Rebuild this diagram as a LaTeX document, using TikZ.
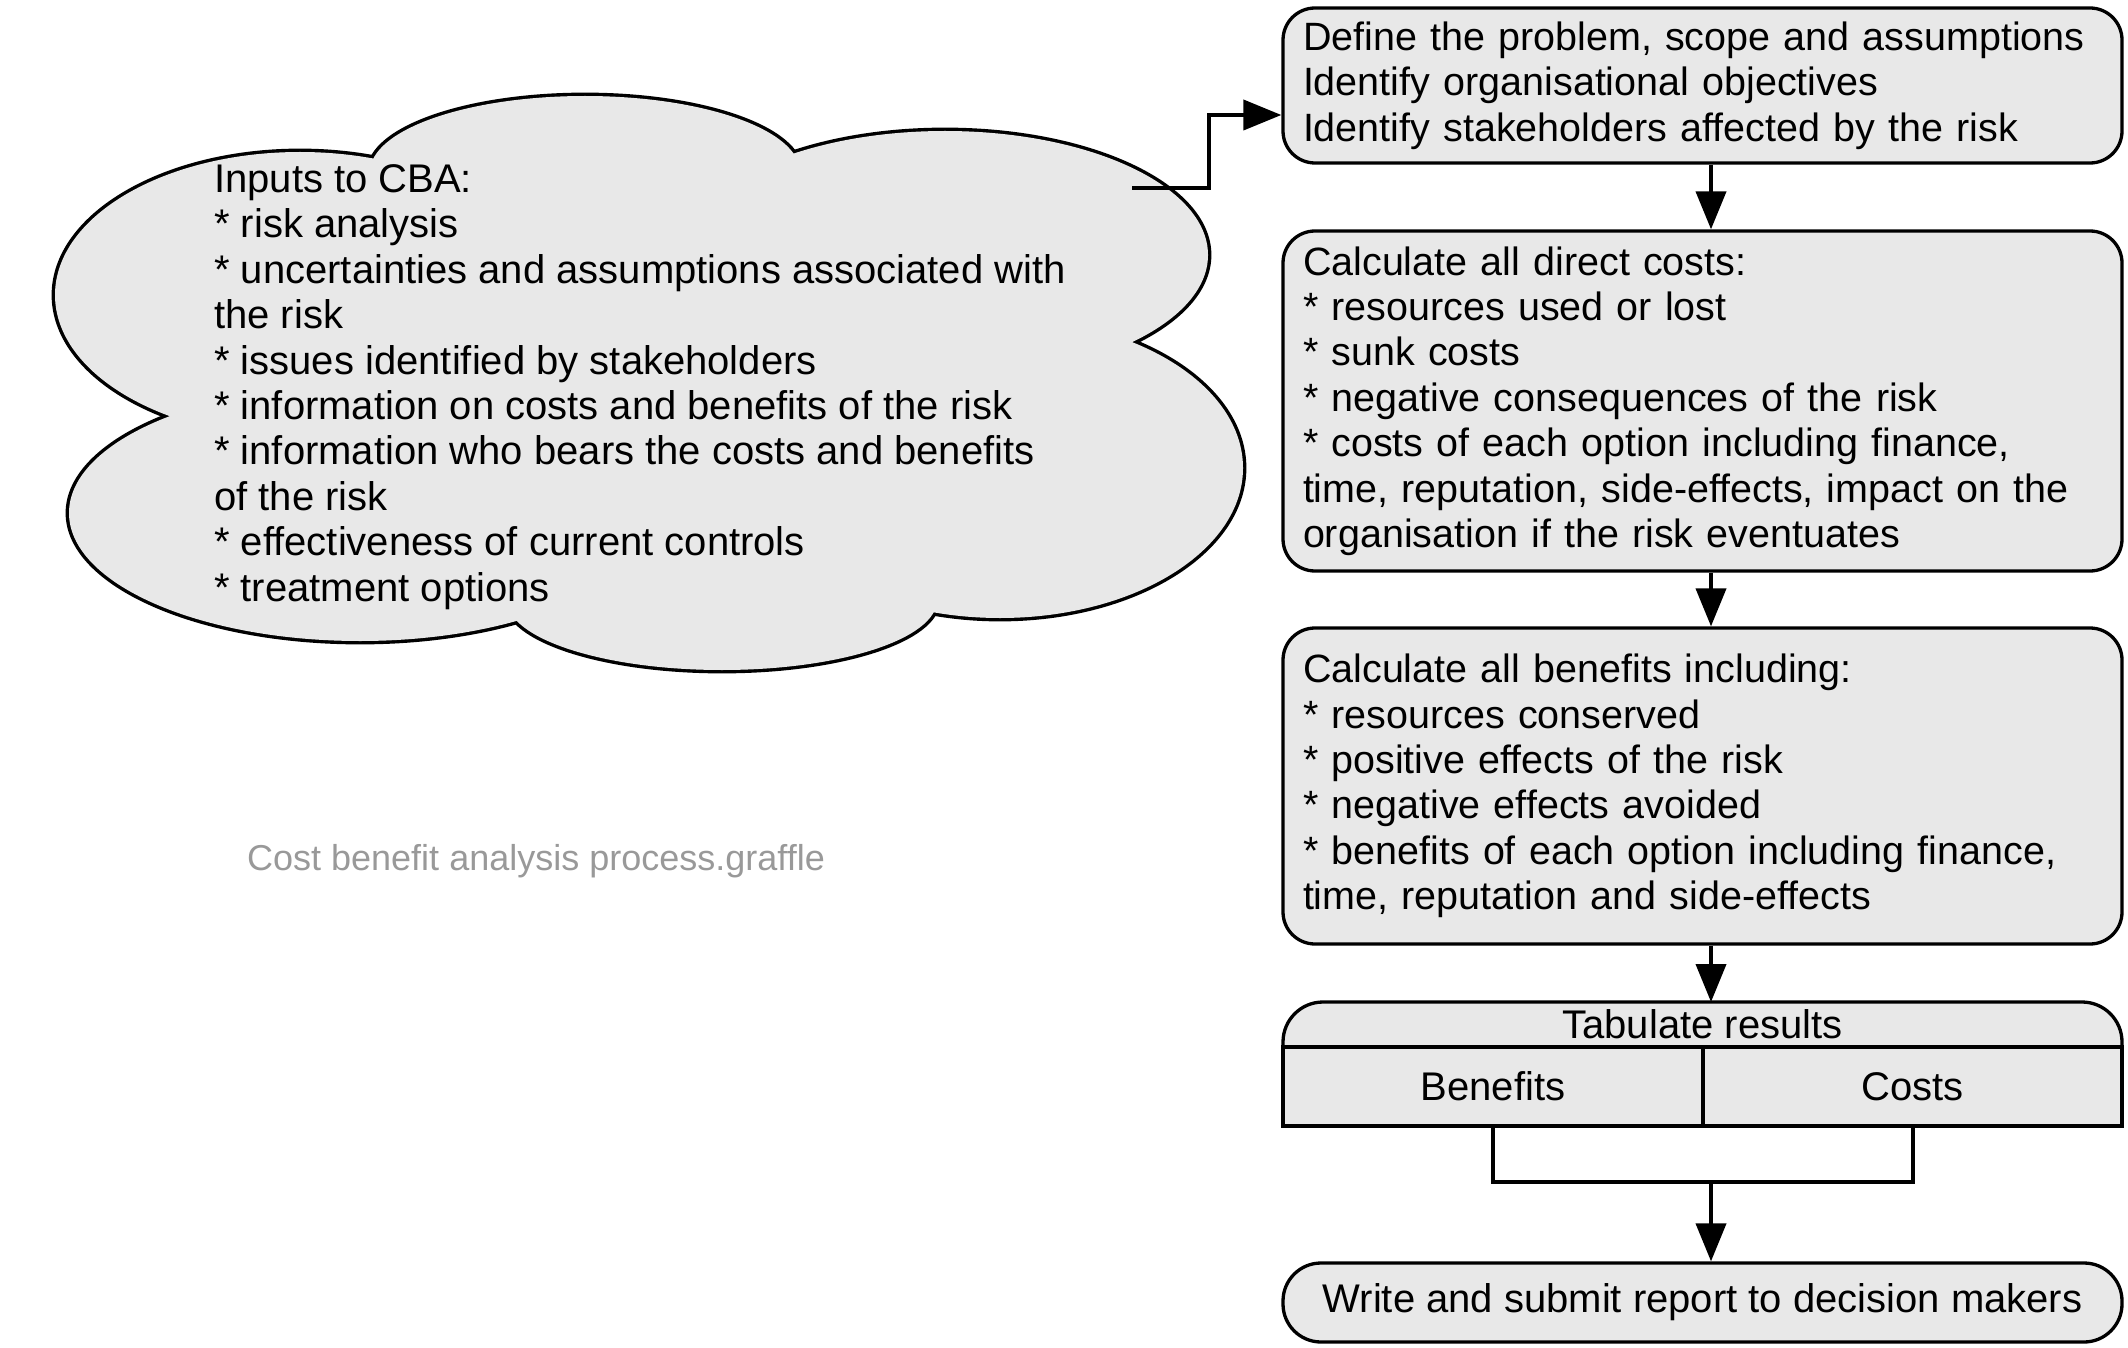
\documentclass[tikz,border=0pt]{standalone}
\usepackage{fontspec}
\setmainfont{Liberation Sans}
\usetikzlibrary{arrows.meta,calc}
\definecolor{boxfill}{RGB}{232,232,232}
\definecolor{wmgray}{RGB}{153,153,153}
\tikzset{
  boxline/.style={draw=black, line width=3.3pt, fill=boxfill},
  bigfont/.style={font=\fontsize{40}{45.4}\selectfont},
  procbox/.style={boxline, font=\fontsize{39.5}{45.4}\selectfont, rounded corners=32pt,
    text width=799pt, inner xsep=20pt, inner ysep=0pt, align=left},
  cellbox/.style={boxline, bigfont, minimum height=79pt, inner sep=0pt},
  conn/.style={line width=4pt},
  arr/.style={conn, -{Triangle[length=38pt,width=30pt]}},
}
\begin{document}
\begin{tikzpicture}[x=1pt,y=-1pt]
\useasboundingbox (0,0) rectangle (2128,1348);

% ---- cloud (union of ellipses) ----
\foreach \cx/\cy/\a/\b in {585/172/215/76, 945/255/263/124, 1000/468/243/150,
                           722/600/215/70, 360/513/291/128, 300/295/245/143}
  \draw[line width=6.8pt] (\cx,\cy) ellipse [x radius=\a, y radius=\b];
\foreach \cx/\cy/\a/\b in {585/172/215/76, 945/255/263/124, 1000/468/243/150,
                           722/600/215/70, 360/513/291/128, 300/295/245/143}
  \fill[boxfill] (\cx,\cy) ellipse [x radius=\a, y radius=\b];
\fill[boxfill] (250,175) rectangle (1000,600);

\node[bigfont, align=left, anchor=west, inner sep=0pt] (cloud) at (214,387)
  {Inputs to CBA:\\
   * risk analysis\\
   * uncertainties and assumptions associated with\\
   the risk\\
   * issues identified by stakeholders\\
   * information on costs and benefits of the risk\\
   * information who bears the costs and benefits\\
   of the risk\\
   * effectiveness of current controls\\
   * treatment options};

\node[font=\fontsize{36}{43}\selectfont, text=wmgray, inner sep=0pt] (wm) at (536,861)
  {Cost benefit analysis process.graffle};

% ---- process boxes ----
\node[procbox, minimum height=155pt] (b1) at (1702.5,85.5)
  {\rule{0pt}{0pt}Define the problem, scope and assumptions\\{}%
   Identify organisational objectives\\{}%
   Identify stakeholders affected by the risk};

\node[procbox, minimum height=340pt] (b2) at (1702.5,401)
  {Calculate all direct costs:\\{}%
   * resources used or lost\\{}%
   * sunk costs\\{}%
   * negative consequences of the risk\\{}%
   * costs of each option including finance,\\{}%
   time, reputation, side-effects, impact on the\\{}%
   organisation if the risk eventuates};

\node[procbox, minimum height=316pt] (b3) at (1702.5,786)
  {Calculate all benefits including:\\{}%
   * resources conserved\\{}%
   * positive effects of the risk\\{}%
   * negative effects avoided\\{}%
   * benefits of each option including finance,\\{}%
   time, reputation and side-effects};

% ---- table ----
\draw[boxline, rounded corners=40pt] (1283,1002) rectangle (2122,1118);
\node[bigfont, inner sep=0pt] (tabh) at (1702.5,1024.5) {Tabulate results};
\node[cellbox, minimum width=420pt] (ben) at (1493,1086.5) {Benefits};
\node[cellbox, minimum width=419pt] (cost) at (1912.5,1086.5) {Costs};

\node[boxline, bigfont, rounded corners=38pt, minimum width=839pt,
      minimum height=79pt, inner sep=0pt] (fin) at (1702.5,1302.5)
  {Write and submit report to decision makers};

% ---- connectors ----
\coordinate (ax) at (1711,0);
\coordinate (cs) at (1132,188);
\coordinate (ce) at (1209,115);
\coordinate (jn) at (1711,1182);

\draw[arr] (cs) -| (ce) -- (b1.west |- ce);
\draw[arr] (b1.south -| ax) -- (b2.north -| ax);
\draw[arr] (b2.south -| ax) -- (b3.north -| ax);
\draw[arr] (b3.south -| ax) -- (1711,1002);
\draw[conn] (ben.south) |- (jn) -| (cost.south);
\draw[arr] (jn) -- (fin.north -| jn);
\end{tikzpicture}
\end{document}
